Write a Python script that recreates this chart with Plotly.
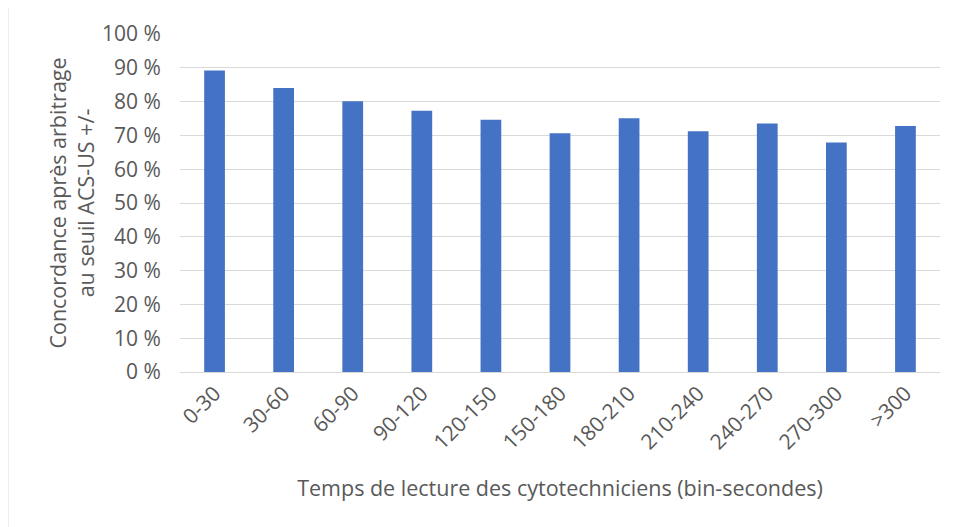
import plotly.graph_objects as go

categories = ["0-30", "30-60", "60-90", "90-120", "120-150", "150-180",
              "180-210", "210-240", "240-270", "270-300", ">300"]
concordance = [89.2, 84.0, 80.1, 77.3, 74.6, 70.6, 75.1, 71.2, 73.5, 67.9, 72.8]

y_title = "Concordance après arbitrage<br>au seuil ACS-US +/-"
x_title = "Temps de lecture des cytotechniciens (bin-secondes)"

font_family = "'Open Sans', sans-serif"
text_color = "#595959"

# page body adds an 8px offset; compensate in margins
L, R, T, B = 172, 24, 26, 163
W, H = 956, 527
pw, ph = W - L - R, H - T - B

fig = go.Figure(go.Bar(
    x=categories, y=concordance,
    marker=dict(color="#4472C4", line=dict(color="#4472C4", width=0)),
))

fig.update_layout(
    width=W, height=H,
    margin=dict(l=L, r=R, t=T, b=B, pad=0),
    paper_bgcolor="white", plot_bgcolor="white",
    bargap=0.7,
    showlegend=False,
    font=dict(family=font_family, color=text_color, size=21),
    xaxis=dict(
        tickangle=-45, showgrid=False, showline=True, linecolor="#D9D9D9",
        linewidth=1, ticks="", tickfont=dict(size=21),
        title=dict(text=x_title, font=dict(size=21.5), standoff=26),
    ),
    yaxis=dict(
        range=[0, 100], dtick=10, ticksuffix=" %",
        showgrid=True, gridcolor="#D9D9D9", gridwidth=1,
        zeroline=False, ticks="outside", ticklen=14, tickcolor="white",
        tickfont=dict(size=21),
        title=dict(text=y_title, font=dict(size=21.5), standoff=1),
    ),
    shapes=[dict(type="rect", xref="paper", yref="paper",
                 x0=-L / pw, x1=1 + 60 / pw,
                 y0=-(B + 40) / ph, y1=1 + 29 / ph,
                 line=dict(color="#D9D9D9", width=1), fillcolor="rgba(0,0,0,0)", layer="below")],
)

fig.write_html("out.html")
